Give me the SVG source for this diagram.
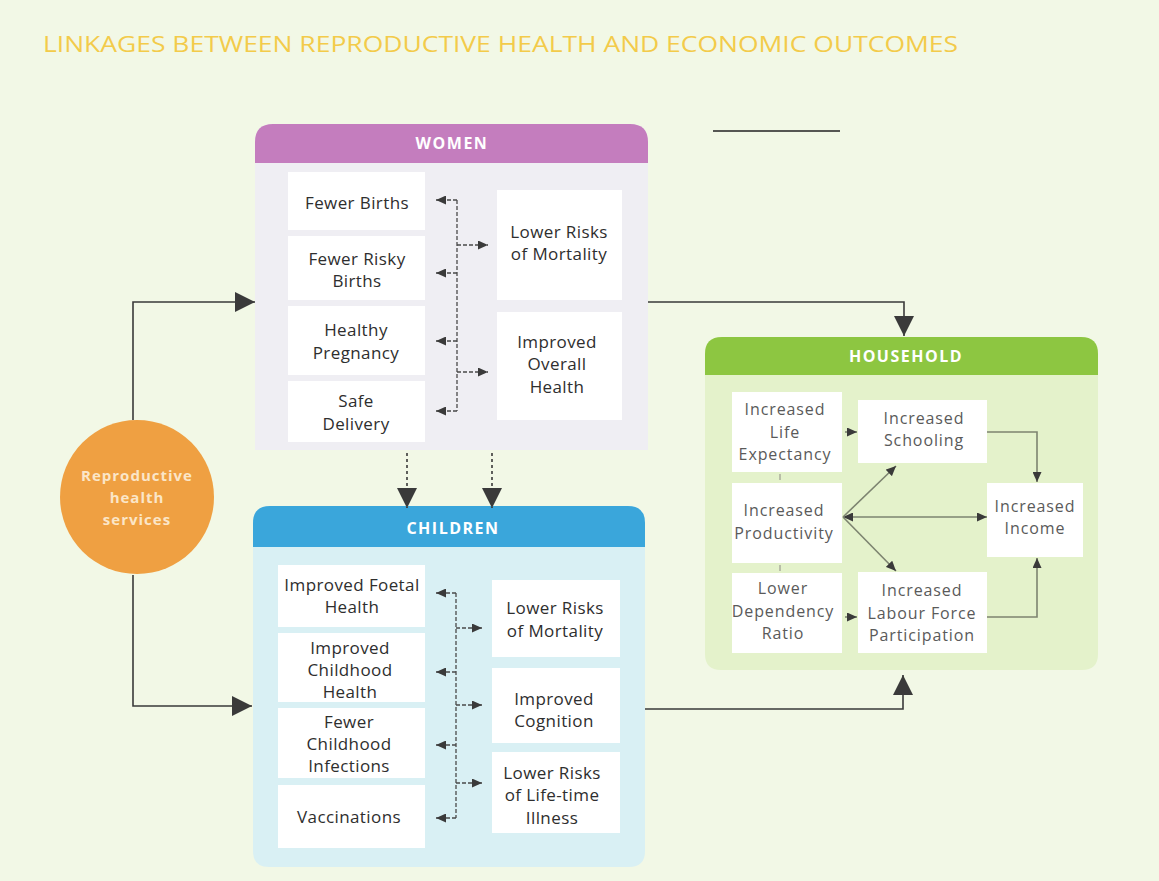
<svg xmlns="http://www.w3.org/2000/svg" width="1159" height="881" viewBox="0 0 1159 881">
  <defs>
    <style>
      .title { font-family: "Open Sans", "Liberation Sans", sans-serif; font-size: 22px; fill: #F3CB4A; }
      .hdr { font-family: "Open Sans", "Liberation Sans", sans-serif; font-size: 16px; font-weight: bold; letter-spacing: 1.5px; fill: #ffffff; text-anchor: middle; }
      .lbl { font-family: "Open Sans", "Liberation Sans", sans-serif; font-size: 17px; letter-spacing: 0.4px; fill: #2e2e2e; text-anchor: middle; }
      .hlbl { font-family: "Open Sans", "Liberation Sans", sans-serif; font-size: 16px; letter-spacing: 0.9px; fill: #5a5a5a; text-anchor: middle; }
      .circ { font-family: "Open Sans", "Liberation Sans", sans-serif; font-size: 15px; font-weight: bold; letter-spacing: 1px; fill: #FBE6C8; text-anchor: middle; }
      .cell { fill: #ffffff; }
      .main { fill: none; stroke: #3a3a3a; stroke-width: 1.6; }
      .inner { fill: none; stroke: #4a4a4a; stroke-width: 1.3; stroke-dasharray: 4 2; }
      .hh { fill: none; stroke: #7d8470; stroke-width: 1.6; }
    </style>
    <marker id="big" markerUnits="userSpaceOnUse" viewBox="0 0 20 20" markerWidth="20" markerHeight="20" refX="20" refY="10" orient="auto">
      <path d="M0,0 L20,10 L0,20 Z" fill="#3a3a3a"/>
    </marker>
    <marker id="small" markerUnits="userSpaceOnUse" viewBox="0 0 10 9" markerWidth="10" markerHeight="9" refX="10" refY="4.5" orient="auto">
      <path d="M0,0 L10,4.5 L0,9 Z" fill="#3a3a3a"/>
    </marker>
    <marker id="smallStart" markerUnits="userSpaceOnUse" viewBox="0 0 10 9" markerWidth="10" markerHeight="9" refX="0" refY="4.5" orient="auto">
      <path d="M10,0 L0,4.5 L10,9 Z" fill="#3a3a3a"/>
    </marker>
  </defs>

  <!-- page -->
  <rect x="0" y="0" width="1159" height="881" fill="#F2F8E6"/>
  <text class="title" x="43" y="52" textLength="915" lengthAdjust="spacingAndGlyphs">LINKAGES BETWEEN REPRODUCTIVE HEALTH AND ECONOMIC OUTCOMES</text>
  <line x1="713" y1="131" x2="840" y2="131" stroke="#222" stroke-width="1.6"/>

  <!-- source node -->
  <g id="reproductive-health-services">
    <circle cx="137" cy="497" r="77" fill="#EFA042"/>
    <text class="circ" x="137" y="481">Reproductive</text>
    <text class="circ" x="137" y="503">health</text>
    <text class="circ" x="137" y="525">services</text>
  </g>

  <!-- women panel -->
  <g id="women">
    <path d="M255,450 V142 Q255,124 273,124 H630 Q648,124 648,142 V450 Z" fill="#EFEEF3"/>
    <path d="M255,163 V142 Q255,124 273,124 H630 Q648,124 648,142 V163 Z" fill="#C47DBE"/>
    <text class="hdr" x="452" y="149">WOMEN</text>
    <rect class="cell" x="288" y="172" width="137" height="58"/>
    <rect class="cell" x="288" y="236" width="137" height="64"/>
    <rect class="cell" x="288" y="306" width="137" height="69"/>
    <rect class="cell" x="288" y="381" width="137" height="61"/>
    <rect class="cell" x="497" y="190" width="125" height="110"/>
    <rect class="cell" x="497" y="312" width="125" height="108"/>
    <text class="lbl" x="357" y="209">Fewer Births</text>
    <text class="lbl" x="357" y="265">Fewer Risky</text>
    <text class="lbl" x="357" y="287">Births</text>
    <text class="lbl" x="356" y="336">Healthy</text>
    <text class="lbl" x="356" y="359">Pregnancy</text>
    <text class="lbl" x="356" y="407">Safe</text>
    <text class="lbl" x="356" y="430">Delivery</text>
    <text class="lbl" x="559" y="238">Lower Risks</text>
    <text class="lbl" x="559" y="260">of Mortality</text>
    <text class="lbl" x="557" y="348">Improved</text>
    <text class="lbl" x="557" y="370">Overall</text>
    <text class="lbl" x="557" y="393">Health</text>
  </g>

  <!-- children panel -->
  <g id="children">
    <path d="M253,851 V523 Q253,506 270,506 H628 Q645,506 645,523 V851 Q645,867 629,867 H269 Q253,867 253,851 Z" fill="#D9F0F4"/>
    <path d="M253,547 V523 Q253,506 270,506 H628 Q645,506 645,523 V547 Z" fill="#3AA6DB"/>
    <text class="hdr" x="453" y="534">CHILDREN</text>
    <rect class="cell" x="278" y="565" width="147" height="62"/>
    <rect class="cell" x="278" y="633" width="147" height="69"/>
    <rect class="cell" x="278" y="708" width="147" height="70"/>
    <rect class="cell" x="278" y="785" width="147" height="63"/>
    <rect class="cell" x="492" y="580" width="128" height="77"/>
    <rect class="cell" x="492" y="668" width="128" height="75"/>
    <rect class="cell" x="492" y="752" width="128" height="81"/>
    <text class="lbl" x="352" y="591">Improved Foetal</text>
    <text class="lbl" x="352" y="613">Health</text>
    <text class="lbl" x="350" y="654">Improved</text>
    <text class="lbl" x="350" y="676">Childhood</text>
    <text class="lbl" x="350" y="698">Health</text>
    <text class="lbl" x="349" y="728">Fewer</text>
    <text class="lbl" x="349" y="750">Childhood</text>
    <text class="lbl" x="349" y="772">Infections</text>
    <text class="lbl" x="349" y="823">Vaccinations</text>
    <text class="lbl" x="555" y="614">Lower Risks</text>
    <text class="lbl" x="555" y="637">of Mortality</text>
    <text class="lbl" x="554" y="705">Improved</text>
    <text class="lbl" x="554" y="727">Cognition</text>
    <text class="lbl" x="552" y="779">Lower Risks</text>
    <text class="lbl" x="552" y="801">of Life-time</text>
    <text class="lbl" x="552" y="824">Illness</text>
  </g>

  <!-- household panel -->
  <g id="household">
    <path d="M705,654 V354 Q705,337 722,337 H1081 Q1098,337 1098,354 V654 Q1098,670 1082,670 H721 Q705,670 705,654 Z" fill="#E4F2CB"/>
    <path d="M705,375 V354 Q705,337 722,337 H1081 Q1098,337 1098,354 V375 Z" fill="#8DC641"/>
    <text class="hdr" x="906" y="362">HOUSEHOLD</text>
    <rect class="cell" x="732" y="392" width="110" height="80"/>
    <rect class="cell" x="732" y="483" width="110" height="80"/>
    <rect class="cell" x="732" y="573" width="110" height="80"/>
    <rect class="cell" x="858" y="400" width="129" height="63"/>
    <rect class="cell" x="858" y="572" width="129" height="81"/>
    <rect class="cell" x="987" y="483" width="96" height="74"/>
    <text class="hlbl" x="785" y="415">Increased</text>
    <text class="hlbl" x="785" y="438">Life</text>
    <text class="hlbl" x="785" y="460">Expectancy</text>
    <text class="hlbl" x="784" y="516">Increased</text>
    <text class="hlbl" x="784" y="539">Productivity</text>
    <text class="hlbl" x="783" y="594">Lower</text>
    <text class="hlbl" x="783" y="617">Dependency</text>
    <text class="hlbl" x="783" y="639">Ratio</text>
    <text class="hlbl" x="924" y="424">Increased</text>
    <text class="hlbl" x="924" y="446">Schooling</text>
    <text class="hlbl" x="922" y="596">Increased</text>
    <text class="hlbl" x="922" y="619">Labour Force</text>
    <text class="hlbl" x="922" y="641">Participation</text>
    <text class="hlbl" x="1035" y="512">Increased</text>
    <text class="hlbl" x="1035" y="534">Income</text>
  </g>

  <!-- connectors -->
  <g id="connectors">
    <!-- services to women and children -->
    <path class="main" d="M133,420 V302 H255" marker-end="url(#big)"/>
    <path class="main" d="M133,575 V706 H252" marker-end="url(#big)"/>
    <!-- women to children -->
    <path class="main" stroke-dasharray="3 3" d="M407,453 V508" marker-end="url(#big)"/>
    <path class="main" stroke-dasharray="3 3" d="M492,453 V508" marker-end="url(#big)"/>
    <!-- women and children to household -->
    <path class="main" d="M648,302 H904 V336" marker-end="url(#big)"/>
    <path class="main" d="M645,709 H903 V675" marker-end="url(#big)"/>

    <!-- women internal links -->
    <path class="inner" d="M457,200 V411"/>
    <path class="inner" d="M457,200 H436" marker-end="url(#small)"/>
    <path class="inner" d="M457,273 H436" marker-end="url(#small)"/>
    <path class="inner" d="M457,341 H436" marker-end="url(#small)"/>
    <path class="inner" d="M457,411 H436" marker-end="url(#small)"/>
    <path class="inner" d="M457,245 H488" marker-end="url(#small)"/>
    <path class="inner" d="M457,372 H488" marker-end="url(#small)"/>

    <!-- children internal links -->
    <path class="inner" d="M456,593 V818"/>
    <path class="inner" d="M456,593 H436" marker-end="url(#small)"/>
    <path class="inner" d="M456,672 H436" marker-end="url(#small)"/>
    <path class="inner" d="M456,745 H436" marker-end="url(#small)"/>
    <path class="inner" d="M456,818 H436" marker-end="url(#small)"/>
    <path class="inner" d="M456,628 H482" marker-end="url(#small)"/>
    <path class="inner" d="M456,705 H482" marker-end="url(#small)"/>
    <path class="inner" d="M456,783 H482" marker-end="url(#small)"/>

    <!-- household internal links -->
    <path class="hh" d="M845,432 H857" marker-end="url(#small)"/>
    <path class="hh" d="M845,617 H857" marker-end="url(#small)"/>
    <path class="hh" d="M843,517 H987" marker-start="url(#smallStart)" marker-end="url(#small)"/>
    <path class="hh" d="M843,517 L896,466" marker-end="url(#small)"/>
    <path class="hh" d="M843,517 L896,571" marker-end="url(#small)"/>
    <path class="hh" d="M987,432 H1037 V482" marker-end="url(#small)"/>
    <path class="hh" d="M987,617 H1037 V558" marker-end="url(#small)"/>
    <path d="M780,474 V480 M780,565 V571" stroke="#a9ad9c" stroke-width="1.5"/>
  </g>
</svg>
